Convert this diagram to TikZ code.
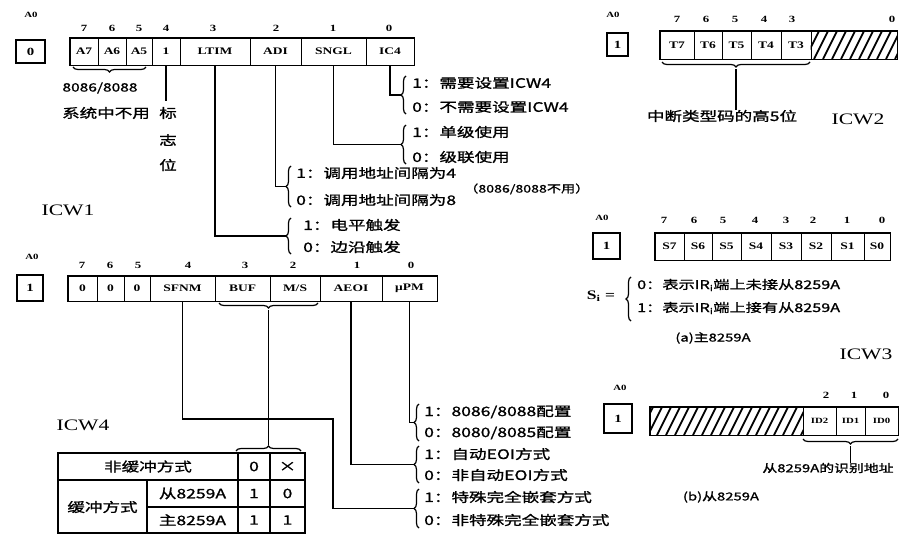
\documentclass[tikz,border=0pt]{standalone}
\usepackage{fontspec}
\setmainfont[FakeStretch=1.35]{Liberation Serif}
\newfontfamily\cjk[FakeStretch=1.35,FakeBold=1.2]{Noto Sans CJK SC}
\usetikzlibrary{decorations.pathreplacing}
\tikzset{
  cell/.style={draw, line width=1pt, inner sep=0pt, font=\bfseries\fontsize{10}{11}\selectfont},
  outer/.style={draw, line width=1.6pt},
  abox/.style={draw, line width=1.6pt, inner sep=0pt, font=\bfseries\fontsize{11}{12}\selectfont},
  bitno/.style={inner sep=0pt, font=\bfseries\fontsize{9.5}{10}\selectfont},
  a0lbl/.style={inner sep=0pt, font=\bfseries\fontsize{8}{9}\selectfont},
  opt/.style={anchor=west, inner sep=0pt, font=\cjk\fontsize{13}{14}\selectfont},
  txt/.style={inner sep=0pt, font=\cjk\fontsize{13}{14}\selectfont},
  ttl/.style={inner sep=0pt, font=\fontsize{16}{18}\selectfont},
  br/.style={decorate, decoration={brace, amplitude=5pt}, line width=1.2pt},
  conn/.style={line width=1.5pt},
  hatch/.style={line width=1.8pt},
  tbl/.style={line width=1.4pt},
}
\begin{document}
\begin{tikzpicture}[x=1pt,y=-1pt]
\useasboundingbox (0,0) rectangle (910,538);

% ================= ICW1 =================
\node[a0lbl] (a0l1) at (31,15) {A0};
\node[abox, minimum width=29pt, minimum height=23pt] (a0b1) at (30.5,51.5) {0};
\begin{scope}[every node/.append style={minimum height=27pt}]
\node[cell, minimum width=28pt] (c17) at (84,51.5) {A7};
\node[cell, minimum width=28pt] (c16) at (112,51.5) {A6};
\node[cell, minimum width=26pt] (c15) at (139,51.5) {A5};
\node[cell, minimum width=28pt] (c14) at (166,51.5) {1};
\node[cell, minimum width=70pt] (ltim) at (215,51.5) {LTIM};
\node[cell, minimum width=51pt] (adi) at (275.5,51.5) {ADI};
\node[cell, minimum width=65pt] (sngl) at (333.5,51.5) {SNGL};
\node[cell, minimum width=48pt] (ic4) at (390,51.5) {IC4};
\end{scope}
\draw[outer] (c17.north west) rectangle (ic4.south east);
\node[bitno] (b17) at (84,28) {7};
\node[bitno] (b16) at (112,28) {6};
\node[bitno] (b15) at (139,28) {5};
\node[bitno] (b14) at (166,28) {4};
\node[bitno] (b13) at (213,28) {3};
\node[bitno] (b12) at (276,28) {2};
\node[bitno] (b11) at (333,28) {1};
\node[bitno] (b10) at (389,28) {0};

\draw[br] (146,67) -- (73,67);
\node[txt, font=\cjk\fontsize{11.5}{12}\selectfont] (nu1) at (100,88) {8086/8088};
\node[txt] (nu2) at (106,113) {系统中不用};
\node[txt] (flg1) at (168,113) {标};
\node[txt] (flg2) at (168,140) {志};
\node[txt] (flg3) at (168,165) {位};
\draw[conn] (c14.south) -- (c14.south |- 0,101);

\node[opt] (o1a) at (412,83) {1：需要设置ICW4};
\node[opt] (o1b) at (412,107) {0：不需要设置ICW4};
\draw[br] (406,114) -- (406,76);
\coordinate (t1a) at (401,95);
\node[opt] (o1c) at (412,132) {1：单级使用};
\node[opt] (o1d) at (412,157) {0：级联使用};
\draw[br] (406,164) -- (406,125);
\coordinate (t1b) at (401,144.5);
\node[opt] (o1e) at (296,173) {1：调用地址间隔为4};
\node[opt] (o1f) at (296,200) {0：调用地址间隔为8};
\draw[br] (291,207) -- (291,166);
\coordinate (t1c) at (286,186.5);
\node[opt, font=\cjk\fontsize{10.5}{11}\selectfont] (o1n) at (464,189) {（8086/8088不用）};
\node[opt] (o1g) at (303,225) {1：电平触发};
\node[opt] (o1h) at (303,247) {0：边沿触发};
\draw[br] (291,254) -- (291,218);
\coordinate (t1d) at (286,236);

\draw[conn] (ic4.south) |- (t1a);
\draw[conn] (sngl.south) |- (t1b);
\draw[conn] (adi.south) |- (t1c);
\draw[conn] (ltim.south) |- (t1d);

\node[ttl] (icw1) at (68,210) {ICW1};

% ================= ICW4 =================
\node[a0lbl] (a0l4) at (32,257) {A0};
\node[abox, minimum width=26pt, minimum height=26pt] (a0b4) at (30,288) {1};
\begin{scope}[every node/.append style={minimum height=25pt}]
\node[cell, minimum width=29pt] (c47) at (82.5,288.5) {0};
\node[cell, minimum width=27pt] (c46) at (110.5,288.5) {0};
\node[cell, minimum width=26pt] (c45) at (137,288.5) {0};
\node[cell, minimum width=65pt] (sfnm) at (182.5,288.5) {SFNM};
\node[cell, minimum width=55pt] (buf) at (242.5,288.5) {BUF};
\node[cell, minimum width=50pt] (ms) at (295,288.5) {M/S};
\node[cell, minimum width=62pt] (aeoi) at (351,288.5) {AEOI};
\node[cell, minimum width=55pt] (upm) at (409.5,288.5) {μPM};
\end{scope}
\draw[outer] (c47.north west) rectangle (upm.south east);
\node[bitno] (b47) at (82,265) {7};
\node[bitno] (b46) at (110,265) {6};
\node[bitno] (b45) at (138,265) {5};
\node[bitno] (b44) at (188,265) {4};
\node[bitno] (b43) at (245,265) {3};
\node[bitno] (b42) at (293,265) {2};
\node[bitno] (b41) at (357,265) {1};
\node[bitno] (b40) at (411,265) {0};

\draw[br] (318,303) -- (219,303);
\coordinate (t4m) at (268.5,310);

\node[opt] (o4a) at (424,412) {1：8086/8088配置};
\node[opt] (o4b) at (424,433) {0：8080/8085配置};
\draw[br] (419,441) -- (419,404);
\coordinate (t4a) at (414,422.5);
\node[opt] (o4c) at (424,454) {1：自动EOI方式};
\node[opt] (o4d) at (424,475) {0：非自动EOI方式};
\draw[br] (419,483) -- (419,446);
\coordinate (t4b) at (414,464.5);
\node[opt] (o4e) at (424,497) {1：特殊完全嵌套方式};
\node[opt] (o4f) at (424,520) {0：非特殊完全嵌套方式};
\draw[br] (419,528) -- (419,489);
\coordinate (t4c) at (414,508.5);

\coordinate (sfb) at (333,419);
\draw[conn] (upm.south) |- (t4a);
\draw[conn] (aeoi.south) |- (t4b);
\draw[conn] (sfnm.south) |- (sfb) |- (t4c);

\node[ttl] (icw4) at (83,425) {ICW4};

% table
\coordinate (tbA) at (58,453);
\coordinate (tbB) at (305,533);
\draw[tbl] (tbA) rectangle (tbB);
\draw[tbl] (58,480) -- (305,480);
\draw[tbl] (147,507) -- (305,507);
\draw[tbl] (147,480) -- (147,533);
\draw[tbl] (238,453) -- (238,533);
\draw[tbl] (270,453) -- (270,533);
\node[txt] (tr1) at (148,466.5) {非缓冲方式};
\node[txt] (tr2) at (102.5,507) {缓冲方式};
\node[txt] (tr3) at (192.5,493.5) {从8259A};
\node[txt] (tr4) at (192.5,520) {主8259A};
\node[txt] (v11) at (254,466.5) {0};
\node[txt] (v12) at (287.5,466.5) {×};
\node[txt] (v21) at (254,493.5) {1};
\node[txt] (v22) at (287.5,493.5) {0};
\node[txt] (v31) at (254,520) {1};
\node[txt] (v32) at (287.5,520) {1};
\draw[br] (236,451) -- (301,451);
\coordinate (t4t) at (268.5,445);
\draw[conn] (t4m) -- (t4t);

% ================= ICW2 =================
\node[a0lbl] (a0l2) at (613,15) {A0};
\node[abox, minimum width=21pt, minimum height=23pt] (a0b2) at (617.5,44.5) {1};
\begin{scope}[every node/.append style={minimum height=28pt}]
\node[cell, minimum width=34pt] (t7) at (677,45) {T7};
\node[cell, minimum width=28pt] (t6) at (708,45) {T6};
\node[cell, minimum width=29pt] (t5) at (736.5,45) {T5};
\node[cell, minimum width=30pt] (t4) at (766,45) {T4};
\node[cell, minimum width=30pt] (t3) at (796,45) {T3};
\node[cell, minimum width=86pt] (h2) at (854,45) {};
\end{scope}
\begin{scope}
\clip (h2.south west) rectangle (h2.north east);
\foreach \x in {796,805,...,900} \draw[hatch] (\x,59) -- ++(14,-28);
\end{scope}
\draw[outer] (t7.north west) rectangle (h2.south east);
\node[bitno] (b27) at (677,19) {7};
\node[bitno] (b26) at (706,19) {6};
\node[bitno] (b25) at (735,19) {5};
\node[bitno] (b24) at (764,19) {4};
\node[bitno] (b23) at (792,19) {3};
\node[bitno] (b20) at (892,19) {0};
\draw[br] (810,62) -- (662,62);
\coordinate (t2m) at (736,69);
\node[txt] (ic2t) at (722,116) {中断类型码的高5位};
\draw[conn] (t2m) -- (t2m |- ic2t.north);
\node[ttl] (icw2) at (858,119) {ICW2};

% ================= ICW3 master =================
\node[a0lbl] (a0l3) at (602,218) {A0};
\node[abox, minimum width=27pt, minimum height=26pt] (a0b3) at (606.5,246) {1};
\begin{scope}[every node/.append style={minimum height=27pt}]
\node[cell, minimum width=29pt] (s7) at (669.5,246.5) {S7};
\node[cell, minimum width=28pt] (s6) at (698,246.5) {S6};
\node[cell, minimum width=29pt] (s5) at (726.5,246.5) {S5};
\node[cell, minimum width=30pt] (s4) at (756,246.5) {S4};
\node[cell, minimum width=30pt] (s3) at (786,246.5) {S3};
\node[cell, minimum width=30pt] (s2) at (816,246.5) {S2};
\node[cell, minimum width=33pt] (s1) at (847.5,246.5) {S1};
\node[cell, minimum width=26pt] (s0) at (877,246.5) {S0};
\end{scope}
\draw[outer] (s7.north west) rectangle (s0.south east);
\node[bitno] (b37) at (664,220) {7};
\node[bitno] (b36) at (694,220) {6};
\node[bitno] (b35) at (723,220) {5};
\node[bitno] (b34) at (755,220) {4};
\node[bitno] (b33) at (786,220) {3};
\node[bitno] (b32) at (813,220) {2};
\node[bitno] (b31) at (847,220) {1};
\node[bitno] (b30) at (882,220) {0};
\node[txt, font=\fontsize{13}{14}\selectfont\bfseries] (si) at (601,296) {S\textsubscript{i} =};
\draw[br] (631,321) -- (631,277);
\node[opt, font=\cjk\fontsize{12}{13}\selectfont] (o3a) at (637,285) {0：表示IR\textsubscript{i}端上未接从8259A};
\node[opt, font=\cjk\fontsize{12}{13}\selectfont] (o3b) at (637,308) {1：表示IR\textsubscript{i}端上接有从8259A};
\node[txt, font=\cjk\fontsize{11}{12}\selectfont] (cap3a) at (713,338) {(a)主8259A};
\node[ttl] (icw3) at (866,354) {ICW3};

% ================= ICW3 slave =================
\node[a0lbl] (a0l5) at (620,388) {A0};
\node[abox, minimum width=28pt, minimum height=29pt] (a0b5) at (618,418.5) {1};
\begin{scope}[every node/.append style={minimum height=28pt}]
\node[cell, minimum width=153pt] (hs) at (726.5,421) {};
\node[cell, minimum width=33pt, font=\bfseries\fontsize{8}{9}\selectfont] (id2) at (819.5,421) {ID2};
\node[cell, minimum width=29pt, font=\bfseries\fontsize{8}{9}\selectfont] (id1) at (850.5,421) {ID1};
\node[cell, minimum width=33pt, font=\bfseries\fontsize{8}{9}\selectfont] (id0) at (881.5,421) {ID0};
\end{scope}
\begin{scope}
\clip (hs.south west) rectangle (hs.north east);
\foreach \x in {630,639,...,810} \draw[hatch] (\x,435) -- ++(14,-28);
\end{scope}
\draw[outer] (hs.north west) rectangle (id0.south east);
\node[bitno] (b52) at (826,395) {2};
\node[bitno] (b51) at (854,395) {1};
\node[bitno] (b50) at (886,395) {0};
\draw[br] (898,439) -- (803,439);
\coordinate (t5m) at (850.5,446);
\node[txt, font=\cjk\fontsize{11}{12}\selectfont] (ic5t) at (828,468) {从8259A的识别地址};
\draw[conn] (t5m) -- (t5m |- ic5t.north);
\node[txt, font=\cjk\fontsize{11}{12}\selectfont] (cap3b) at (721,497) {(b)从8259A};

\end{tikzpicture}
\end{document}
